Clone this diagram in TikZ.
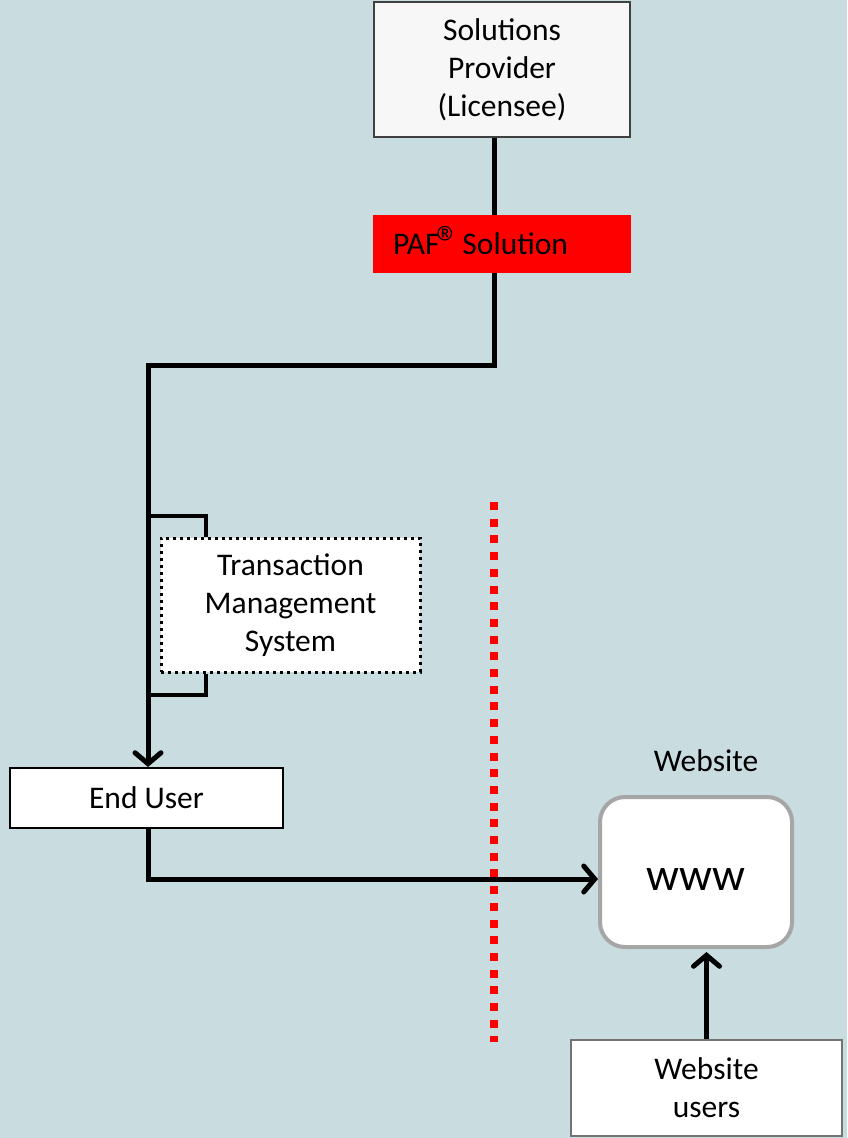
\documentclass[tikz,border=0pt]{standalone}
\usepackage{fontspec}
\setmainfont{Carlito}
\usetikzlibrary{arrows.meta}
\definecolor{bgcol}{RGB}{201,220,224}
\definecolor{boxgrey}{RGB}{166,166,166}
\tikzset{
    conn/.style={line width=5pt, black},
    tip/.style={-{Straight Barb[length=11pt,width=26pt,line cap=round]}},
    box/.style={draw, fill=white, inner sep=0pt, align=center,
        font=\fontsize{31.5}{38}\selectfont},
}

\begin{document}
\begin{tikzpicture}[x=1pt,y=-1pt]

    % Fondo
    \fill[bgcol] (0,0) rectangle (847,1138);
    \useasboundingbox (0,0) rectangle (847,1138);

    % Cajas
    \node[box, fill=white!97!black, draw=black!75, line width=1.5pt,
        minimum width=256pt, minimum height=135pt] (provider) at (502,69.5)
        {Solutions\\Provider\\(Licensee)};
    \node[box, fill=red, draw=none, minimum width=258pt, minimum height=58pt,
        text width=218pt, inner xsep=20pt, align=left] (paf) at (502,244)
        {PAF\kern-3pt\smash{\raisebox{-5pt}{\fontsize{48}{48}\selectfont ®}}\kern-9pt{} Solution};
    \node[box, line width=3pt, dash pattern=on 3pt off 4pt,
        minimum width=259pt, minimum height=134pt] (tms) at (290.5,605)
        {Transaction\\Management\\System};
    \node[box, line width=2pt, minimum width=273pt, minimum height=60pt]
        (enduser) at (146.5,798) {End User};
    \node[box, draw=boxgrey, line width=4pt, rounded corners=25pt,
        minimum width=192pt, minimum height=150pt] (www) at (696,872) {};
    \node[font=\fontsize{46}{50}\selectfont] (wwwtext) at (696,879) {www};
    \node[font=\fontsize{31.5}{38}\selectfont] (weblabel) at (706,761) {Website};
    \node[box, draw=black!55, line width=1.5pt, minimum width=271pt,
        minimum height=96pt] (users) at (706.5,1088) {Website\\users};

    % Puntos de quiebre
    \coordinate (drop) at (494,365);
    \coordinate (left) at (148,365);
    \coordinate (tmsin) at (148,516);
    \coordinate (tmsout) at (148,695);

    % Conexiones
    \draw[conn] (provider.south -| drop) -- (paf.north -| drop);
    \draw[conn, tip] (paf.south -| drop) -- (drop) -- (left) -- (left |- enduser.north);
    \draw[conn, line width=4pt] (tmsin) -| ([xshift=46pt]tms.north west);
    \draw[conn, line width=4pt] ([xshift=46pt]tms.south west) |- (tmsout);
    \draw[conn, tip] (enduser.south -| left) |- ([yshift=-7pt]www.west);
    \draw[conn, tip] (users.north) -- ([yshift=-3pt]users.north |- www.south);

    % Frontera
    \draw[red, line width=8pt, dash pattern=on 8pt off 8.7pt] (494,502) -- (494,1042);
\end{tikzpicture}
\end{document}
